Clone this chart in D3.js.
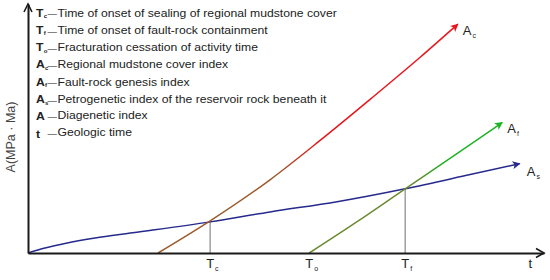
<!DOCTYPE html>
<html>
<head>
<meta charset="utf-8">
<script src="https://cdn.jsdelivr.net/npm/d3@7"></script>
<style>
  body { margin: 0; background: #fff; }
  svg { display: block; font-family: "Liberation Sans", Arial, sans-serif; }
</style>
</head>
<body>
<div id="chart"></div>
<script>
// time (t) and index (A) in arbitrary units
const blueSeries = [
    [0, 0], [0.33, 0.20], [0.76, 0.40], [1.30, 0.60], [2.03, 0.81], [3.53, 1.25],
    [4.69, 1.65], [5.99, 2.06], [7.31, 2.58], [8.57, 3.15], [9.53, 3.59]
];
const redSeries = [
    [2.52, 0], [3.53, 1.29], [4.69, 2.94], [5.66, 4.52], [6.63, 6.17], [7.60, 7.86], [8.33, 9.19]
];
const greenSeries = [
    [5.45, 0], [6.40, 1.29], [7.31, 2.58], [8.54, 4.31], [9.19, 5.24]
];

const timeMarks = [
    { sym: "T", sub: "c", t: 3.53, guide: 1.25 },
    { sym: "T", sub: "o", t: 5.45, guide: null },
    { sym: "T", sub: "f", t: 7.31, guide: 2.58 }
];

const legendItems = [
    { sym: "T", sub: "c", text: "Time of onset of sealing of regional mudstone cover" },
    { sym: "T", sub: "f", text: "Time of onset of fault-rock containment" },
    { sym: "T", sub: "o", text: "Fracturation cessation of activity time" },
    { sym: "A", sub: "c", text: "Regional mudstone cover index" },
    { sym: "A", sub: "f", text: "Fault-rock genesis index" },
    { sym: "A", sub: "s", text: "Petrogenetic index of the reservoir rock beneath it" },
    { sym: "A", sub: "", text: "Diagenetic index" },
    { sym: "t", sub: "", text: "Geologic time" }
];

const width = 550, height = 280;

const svg = d3.select("#chart").append("svg")
    .attr("width", width)
    .attr("height", height);

const x = d3.scaleLinear().domain([0, 10]).range([28, 544]);
const y = d3.scaleLinear().domain([0, 10]).range([253, 4]);

const defs = svg.append("defs");

// arrow markers for the curves
function addMarker(id, color) {
    defs.append("marker")
        .attr("id", id)
        .attr("viewBox", "0 0 10 10")
        .attr("refX", 9)
        .attr("refY", 5)
        .attr("markerWidth", 9)
        .attr("markerHeight", 8)
        .attr("markerUnits", "userSpaceOnUse")
        .attr("orient", "auto")
        .append("path")
        .attr("d", "M0,0 L10,5 L0,10 L2.5,5 Z")
        .attr("fill", color);
}
addMarker("arrow-red", "#e8161c");
addMarker("arrow-green", "#1db324");
addMarker("arrow-blue", "#262a8c");

// brown->red and olive->green gradients along the lines
function addGradient(id, series, c0, c1, mid) {
    const first = series[0], last = series[series.length - 1];
    const g = defs.append("linearGradient")
        .attr("id", id)
        .attr("gradientUnits", "userSpaceOnUse")
        .attr("x1", x(first[0])).attr("y1", y(first[1]))
        .attr("x2", x(last[0])).attr("y2", y(last[1]));
    g.append("stop").attr("offset", 0).attr("stop-color", c0);
    g.append("stop").attr("offset", mid).attr("stop-color", c0);
    g.append("stop").attr("offset", mid + 0.15).attr("stop-color", c1);
    g.append("stop").attr("offset", 1).attr("stop-color", c1);
}
addGradient("grad-red", redSeries, "#9c5a2c", "#e8161c", 0.38);
addGradient("grad-green", greenSeries, "#6a8a30", "#1db324", 0.55);

const line = d3.line()
    .x(d => x(d[0]))
    .y(d => y(d[1]))
    .curve(d3.curveMonotoneX);

// guide lines from the axis to the blue curve
svg.selectAll(".guide")
    .data(timeMarks.filter(d => d.guide !== null))
    .enter().append("line")
    .attr("class", "guide")
    .attr("x1", d => x(d.t)).attr("x2", d => x(d.t))
    .attr("y1", y(0)).attr("y2", d => y(d.guide))
    .attr("stroke", "#999")
    .attr("stroke-width", 1.4);

svg.append("path")
    .datum(blueSeries)
    .attr("fill", "none")
    .attr("stroke", "#262a8c")
    .attr("stroke-width", 1.5)
    .attr("marker-end", "url(#arrow-blue)")
    .attr("d", line);

svg.append("path")
    .datum(redSeries)
    .attr("fill", "none")
    .attr("stroke", "url(#grad-red)")
    .attr("stroke-width", 1.5)
    .attr("marker-end", "url(#arrow-red)")
    .attr("d", line);

svg.append("path")
    .datum(greenSeries)
    .attr("fill", "none")
    .attr("stroke", "url(#grad-green)")
    .attr("stroke-width", 1.5)
    .attr("marker-end", "url(#arrow-green)")
    .attr("d", line);

// axes (no ticks, just the arrows)
const axisColor = "#1a1a1a";
svg.append("g")
    .attr("transform", "translate(0," + y(0) + ")")
    .call(d3.axisBottom(x).tickValues([]).tickSizeOuter(0))
    .select(".domain")
    .attr("stroke", axisColor)
    .attr("stroke-width", 2);

svg.append("g")
    .attr("transform", "translate(" + x(0) + ",0)")
    .call(d3.axisLeft(y).tickValues([]).tickSizeOuter(0))
    .select(".domain")
    .attr("stroke", axisColor)
    .attr("stroke-width", 2);

svg.append("path")
    .attr("d", "M" + (x(0) - 4) + "," + (y(10) + 8) + " L" + x(0) + "," + y(10) + " L" + (x(0) + 4) + "," + (y(10) + 8))
    .attr("fill", "none")
    .attr("stroke", axisColor)
    .attr("stroke-width", 1.6);

svg.append("path")
    .attr("d", "M" + (x(10) - 8) + "," + (y(0) - 4.5) + " L" + x(10) + "," + y(0) + " L" + (x(10) - 8) + "," + (y(0) + 4.5))
    .attr("fill", "none")
    .attr("stroke", axisColor)
    .attr("stroke-width", 1.6);

// time labels under the axis
const tLabels = svg.selectAll(".tlabel")
    .data(timeMarks)
    .enter().append("text")
    .attr("class", "tlabel")
    .attr("x", d => x(d.t) - 4)
    .attr("y", 268)
    .attr("font-size", 13)
    .attr("fill", "#222");
tLabels.append("tspan").text(d => d.sym);
tLabels.append("tspan").attr("font-size", 7).attr("dx", 1).attr("dy", 3).text(d => d.sub);

svg.append("text")
    .attr("x", x(9.7))
    .attr("y", 268)
    .attr("font-size", 13)
    .attr("fill", "#222")
    .text("t");

// curve labels next to the arrow heads
const curveLabels = [
    { sym: "A", sub: "c", at: redSeries[redSeries.length - 1], dx: 5, dy: 11 },
    { sym: "A", sub: "f", at: greenSeries[greenSeries.length - 1], dx: 5, dy: 10 },
    { sym: "A", sub: "s", at: blueSeries[blueSeries.length - 1], dx: 7, dy: 12 }
];
const cLabels = svg.selectAll(".clabel")
    .data(curveLabels)
    .enter().append("text")
    .attr("class", "clabel")
    .attr("x", d => x(d.at[0]) + d.dx)
    .attr("y", d => y(d.at[1]) + d.dy)
    .attr("font-size", 13)
    .attr("fill", "#222");
cLabels.append("tspan").text(d => d.sym);
cLabels.append("tspan").attr("font-size", 7).attr("dx", 1).attr("dy", 3).text(d => d.sub);

// y axis title
svg.append("text")
    .attr("transform", "translate(15,137) rotate(-90)")
    .attr("text-anchor", "middle")
    .attr("font-size", 12.5)
    .attr("fill", "#444")
    .text("A(MPa · Ma)");

// legend, text is stretched horizontally in the original
const legend = svg.append("g")
    .attr("font-size", 10)
    .attr("fill", "#222");

const rows = legend.selectAll(".row")
    .data(legendItems)
    .enter().append("text")
    .attr("class", "row")
    .attr("transform", (d, i) => "translate(36," + (16.5 + i * 17.3) + ") scale(1.22,1)");

rows.append("tspan")
    .attr("font-weight", "bold")
    .text(d => d.sym);
rows.append("tspan")
    .attr("x", d => d.sym === "A" ? 7.3 : 6.3)
    .attr("dy", 1.5)
    .attr("font-size", 5)
    .attr("font-weight", "bold")
    .text(d => d.sub);
rows.append("tspan")
    .attr("x", 9.4)
    .attr("dy", -1.8)
    .attr("font-size", 7.8)
    .text("—");
rows.append("tspan")
    .attr("x", 17.6)
    .attr("dy", 0.3)
    .text(d => d.text);
</script>
</body>
</html>
